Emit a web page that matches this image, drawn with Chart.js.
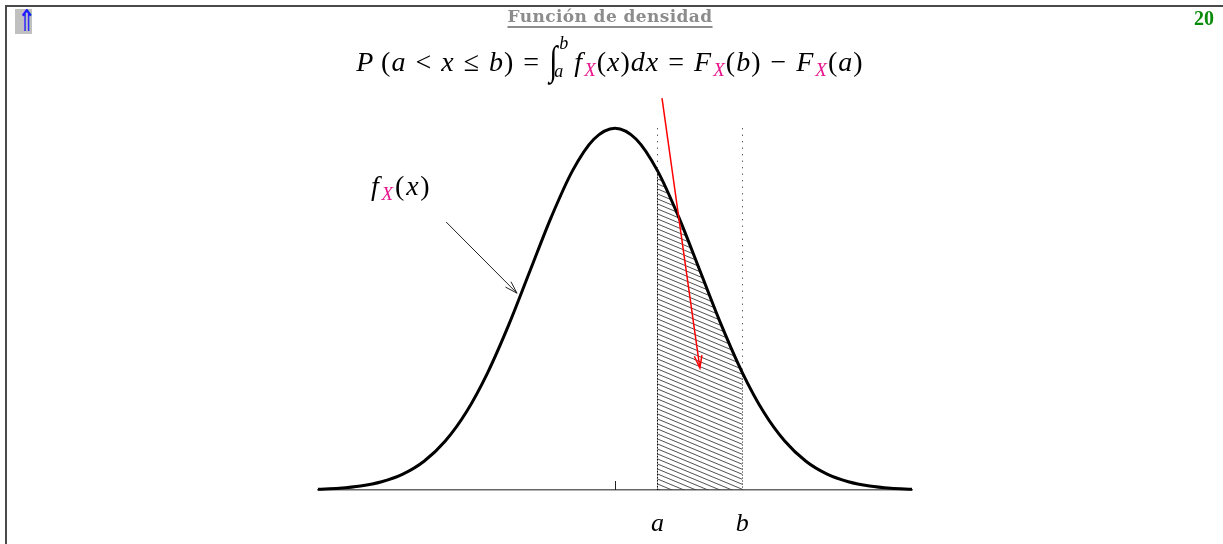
<!DOCTYPE html>
<html>
<head>
<meta charset="utf-8">
<script src="https://cdn.jsdelivr.net/npm/chart.js@4"></script>
<style>
  html, body { margin:0; padding:0; background:#fff; }
  #wrap { position:relative; width:1223px; height:544px; overflow:hidden; background:#fff; }
  #c { position:absolute; left:0; top:0; }
  .frameTop { position:absolute; left:5px; top:5px; width:1230px; height:0; border-top:2px solid #4a4a4a; }
  .frameLeft { position:absolute; left:5px; top:5px; width:0; height:560px; border-left:2px solid #4a4a4a; }
  #icon { position:absolute; left:15px; top:9px; width:17px; height:25px; background:#c0c0c0; overflow:hidden; }
  #icon span { position:absolute; left:0; top:-3px; width:17px; text-align:center; color:#1a1aff;
               font:30px/30px "DejaVu Sans", sans-serif; transform:scale(0.75, 1.0); }
  #title { position:absolute; left:0; width:1220px; top:6px; text-align:center; color:#8c8c8c;
           font:bold 17px "DejaVu Serif", serif; letter-spacing:0.4px; }
  #title span { text-decoration:underline; text-decoration-thickness:1.5px; text-underline-offset:4px; }
  #page { position:absolute; right:9px; top:7px; color:#0a8a0a; font:bold 20px "Liberation Serif", serif; }
  .math { position:absolute; font-family:"Liberation Serif", serif; font-size:28px; color:#000; white-space:nowrap; letter-spacing:1px; }
  .math i { font-style:italic; }
  .op { margin:0 9px; }
  .m { color:#e8138c; font-style:italic; font-size:19px; position:relative; top:5px; margin-left:1px; }
  .int { display:inline-block; font-size:30px; transform:scale(1, 1.35); position:relative; top:-1px; }
  .lim { display:inline-block; position:relative; width:16px; height:10px; font-size:18px; font-style:italic; }
  .lim .up { position:absolute; left:1px; top:-28px; }
  .lim .dn { position:absolute; left:-4px; top:0px; }
  #formula { left:0; width:1220px; top:44px; text-align:center; }
  #flabel { left:371px; top:170px; letter-spacing:1.8px; }
</style>
</head>
<body>
<div id="wrap">
  <canvas id="c" width="1223" height="544"></canvas>
  <div class="frameTop"></div>
  <div class="frameLeft"></div>
  <div id="icon"><span>⇑</span></div>
  <div id="title"><span>Función de densidad</span></div>
  <div id="page">20</div>
  <div id="formula" class="math"><i>P</i>&#8201;(<i>a</i><span class="op">&lt;</span><i>x</i><span class="op">≤</span><i>b</i>)<span class="op">=</span><span class="int">∫</span><span class="lim"><span class="up">b</span><span class="dn">a</span></span><i>f</i><span class="m">X</span>(<i>x</i>)<i>dx</i><span class="op">=</span><i>F</i><span class="m">X</span>(<i>b</i>)<span class="op">−</span><i>F</i><span class="m">X</span>(<i>a</i>)</div>
  <div id="flabel" class="math"><i>f</i><span class="m">X</span>(<i>x</i>)</div>
</div>
<script>
// ---- data (standardised x, density) ----
const xValues = [-3.5,-3.25,-3,-2.75,-2.5,-2.25,-2,-1.75,-1.5,-1.25,-1,-0.75,-0.5,-0.25,0,
                 0.25,0.5,0.75,1,1.25,1.5,1.75,2,2.25,2.5,2.75,3,3.25,3.5];
const density = [0.0009,0.0020,0.0044,0.0091,0.0175,0.0317,0.0540,0.0863,0.1295,0.1826,0.2420,0.3011,0.3521,0.3867,0.3989,
                 0.3867,0.3521,0.3011,0.2420,0.1826,0.1295,0.0863,0.0540,0.0317,0.0175,0.0091,0.0044,0.0020,0.0009];
const lowerBound = 0.5;   // a
const upperBound = 1.5;   // b
const tickValues = [0.5, 1.5];
const tickLabels = ['a', 'b'];
const centreTick = 0;
const guideTop = 0.399;   // top of dotted guides
// arrows (data coordinates): [x0, y0, x1, y1]
const labelArrow = [-1.99, 0.2955, -1.155, 0.217];
const redArrow = [0.554, 0.432, 1.0, 0.1345];

const curvePts = xValues.map((x, i) => ({x, y: density[i]}));
const areaPts = curvePts.filter(p => p.x >= lowerBound && p.x <= upperBound);

function hatch() {
  const c = document.createElement('canvas');
  c.width = 12; c.height = 5;
  const g = c.getContext('2d');
  g.strokeStyle = '#3c3c3c';
  g.lineWidth = 0.9;
  for (let k = -1; k <= 1; k++) {
    g.beginPath();
    g.moveTo(-12, -5 + k * 5);
    g.lineTo(24, 10 + k * 5);
    g.stroke();
  }
  return g.createPattern(c, 'repeat');
}

function arrow(ctx, x0, y0, x1, y1, color, w) {
  ctx.save();
  ctx.strokeStyle = color; ctx.lineWidth = w; ctx.setLineDash([]);
  ctx.beginPath(); ctx.moveTo(x0, y0); ctx.lineTo(x1, y1); ctx.stroke();
  const ang = Math.atan2(y1 - y0, x1 - x0), L = 13, s = 0.3;
  ctx.beginPath();
  ctx.moveTo(x1 - L * Math.cos(ang - s), y1 - L * Math.sin(ang - s));
  ctx.lineTo(x1, y1);
  ctx.lineTo(x1 - L * Math.cos(ang + s), y1 - L * Math.sin(ang + s));
  ctx.stroke();
  ctx.restore();
}

const decor = {
  id: 'decor',
  afterDatasetsDraw(chart) {
    const {ctx, scales: {x, y}} = chart;
    const base = y.getPixelForValue(0);
    ctx.save();
    const cx = x.getPixelForValue(centreTick);
    ctx.strokeStyle = '#222'; ctx.lineWidth = 1;
    ctx.beginPath(); ctx.moveTo(cx + 0.5, base); ctx.lineTo(cx + 0.5, base - 9); ctx.stroke();
    [lowerBound, upperBound].forEach((v, k) => {
      const px = Math.round(x.getPixelForValue(v)) + 0.5;
      const yc = y.getPixelForValue(density[xValues.indexOf(v)]);
      ctx.strokeStyle = '#444'; ctx.lineWidth = 1;
      ctx.setLineDash([1.2, 5.3]);
      ctx.beginPath(); ctx.moveTo(px, y.getPixelForValue(guideTop)); ctx.lineTo(px, yc); ctx.stroke();
      ctx.strokeStyle = '#111';
      ctx.setLineDash(k === 0 ? [2, 1] : [1, 2]);
      ctx.beginPath(); ctx.moveTo(px, yc); ctx.lineTo(px, base); ctx.stroke();
    });
    ctx.setLineDash([]);
    ctx.restore();
    const P = a => [x.getPixelForValue(a[0]), y.getPixelForValue(a[1]), x.getPixelForValue(a[2]), y.getPixelForValue(a[3])];
    arrow(ctx, ...P(labelArrow), '#222', 1);
    arrow(ctx, ...P(redArrow), '#ff0000', 1.5);
  }
};

const ctx = document.getElementById('c').getContext('2d');
new Chart(ctx, {
  type: 'line',
  data: {
    datasets: [
      { data: areaPts, fill: 'origin', backgroundColor: hatch(), borderWidth: 0, pointRadius: 0,
        cubicInterpolationMode: 'monotone', order: 2 },
      { data: curvePts, fill: false, borderColor: '#000', borderWidth: 3, pointRadius: 0,
        cubicInterpolationMode: 'monotone', clip: 6, order: 1 }
    ]
  },
  options: {
    responsive: false,
    animation: false,
    events: [],
    layout: { padding: { left: 318, right: 311, top: 100, bottom: 0 } },
    plugins: { legend: { display: false }, tooltip: { enabled: false }, title: { display: false } },
    scales: {
      x: {
        type: 'linear', min: -3.5, max: 3.5,
        afterBuildTicks: s => { s.ticks = tickValues.map(v => ({ value: v })); },
        afterFit: s => { s.height = 54; },
        ticks: {
          autoSkip: false, maxRotation: 0, padding: 19, color: '#000',
          font: { family: 'Liberation Serif', style: 'italic', size: 26 },
          callback: v => tickLabels[tickValues.indexOf(v)]
        },
        grid: { display: false, drawTicks: false },
        border: { display: true, color: '#666', width: 1.5 }
      },
      y: { display: false, min: 0, max: 0.43 }
    }
  },
  plugins: [decor]
});
</script>
</body>
</html>
